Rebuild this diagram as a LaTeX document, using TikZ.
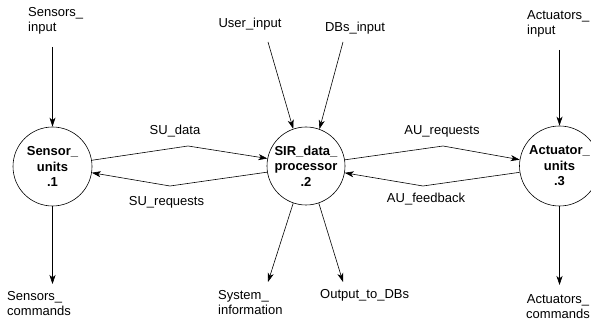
\documentclass[tikz,border=0pt]{standalone}
\usepackage{fontspec}
\setmainfont{Liberation Sans}
\usetikzlibrary{arrows.meta}

\newcommand{\dfdfont}{\fontsize{13}{15.5}\selectfont}

\tikzset{
    process/.style={circle, draw, line width=0.6pt, inner sep=0pt,
        align=center, font=\dfdfont\bfseries},
    flow/.style={line width=0.6pt, -{Stealth[length=9pt,width=6pt,inset=2.5pt]}},
    term/.style={inner sep=0pt, align=left, anchor=north west},
    lbl/.style={inner sep=0pt, anchor=base},
}

\begin{document}
\begin{tikzpicture}[x=1pt,y=-1pt,font=\dfdfont]

    \useasboundingbox (0,0) rectangle (591,320);
    \clip (0,0) rectangle (591,320);

    % Processes
    \node[process, minimum size=79pt] (su)  at (52.5,166.5) {Sensor\_\\units\\.1};
    \node[process, minimum size=78pt] (sir) at (306,166)    {SIR\_data\_\\processor\\.2};
    \node[process, minimum size=80pt] (au)  at (559.5,166)  {Actuator\_\\units\\.3};

    % Terminators (top)
    \node[term] (tsi) at (28,7)   {Sensors\_\\input};
    \node[lbl]  (tui) at (250,28) {User\_input};
    \node[lbl]  (tdi) at (355,32) {DBs\_input};
    \node[term] (tai) at (527,10) {Actuators\_\\input};

    % Terminators (bottom)
    \node[term] (tsc) at (7,291)   {Sensors\_\\commands};
    \node[term] (tsy) at (218,290) {System\_\\information};
    \node[lbl, anchor=base west] (tod) at (320,298) {Output\_to\_DBs};
    \node[inner sep=0pt, align=center, anchor=north] (tac) at (558,294) {Actuators\_\\commands};

    % Free ends of the external flows
    \coordinate (si) at (52.5,47);
    \coordinate (ui) at (268,42);
    \coordinate (di) at (343,42);
    \coordinate (ai) at (559.5,50);
    \coordinate (sc) at (52.5,284);
    \coordinate (sy) at (268,282);
    \coordinate (od) at (343,282);
    \coordinate (ac) at (559.5,285);

    % External flows
    \draw[flow] (si) -- (su.north);
    \draw[flow] (ui) -- (sir.109);
    \draw[flow] (di) -- (sir.70);
    \draw[flow] (ai) -- (au.north);
    \draw[flow] (su.south) -- (sc);
    \draw[flow] (sir.251) -- (sy);
    \draw[flow] (sir.289) -- (od);
    \draw[flow] (au.south) -- (ac);

    % Bends of the internal flows
    \coordinate (bsud) at (188,146);
    \coordinate (bsur) at (170,186);
    \coordinate (baur) at (443,146);
    \coordinate (bauf) at (423,186);

    % Internal flows
    \draw[flow] (su.9) -- (bsud) -- (sir.169);
    \draw[flow] (sir.189) -- (bsur) -- (su.351);
    \draw[flow] (sir.9) -- (baur) -- (au.171);
    \draw[flow] (au.189) -- (bauf) -- (sir.350);

    % Flow labels
    \node[lbl] (lsud) at (175,135)   {SU\_data};
    \node[lbl] (lsur) at (166.5,206) {SU\_requests};
    \node[lbl] (laur) at (442,135)   {AU\_requests};
    \node[lbl] (lauf) at (426,203)   {AU\_feedback};

\end{tikzpicture}
\end{document}
